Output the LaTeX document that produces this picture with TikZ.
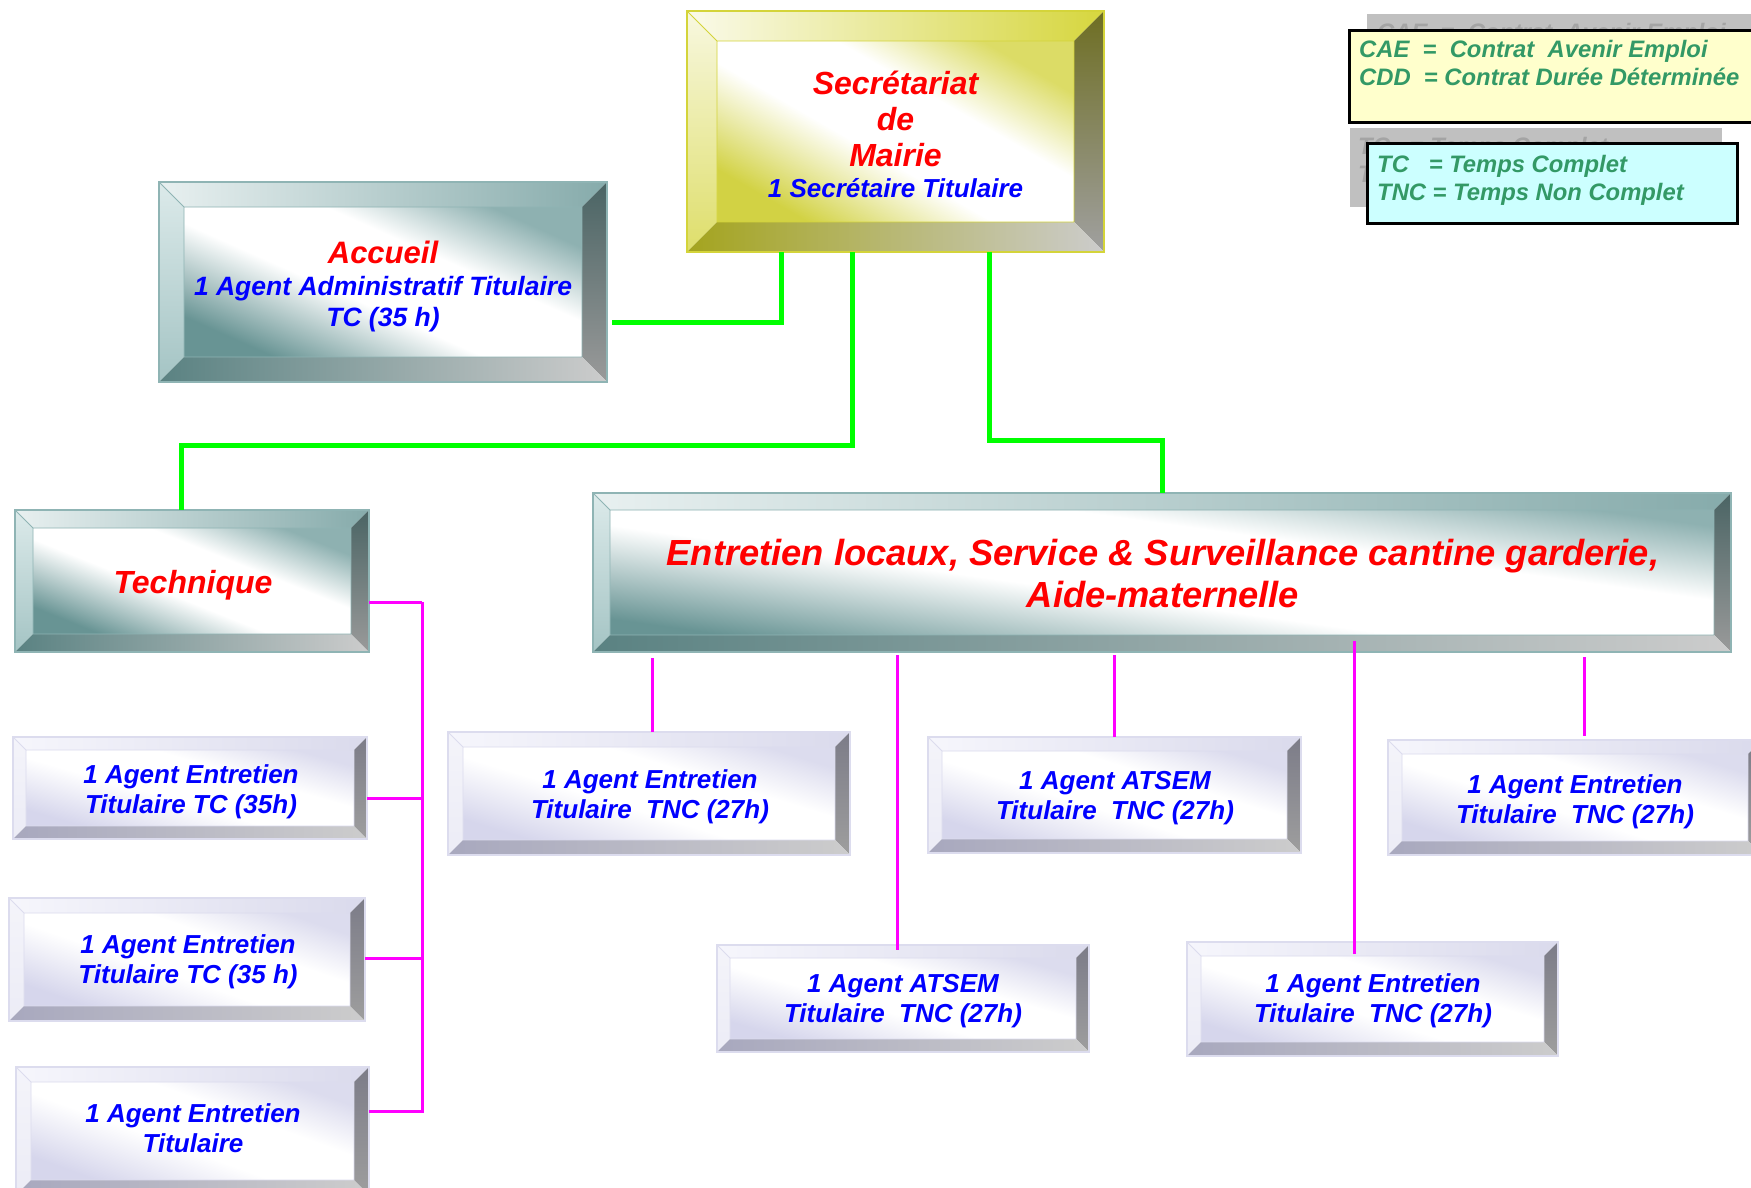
\documentclass[tikz,border=0pt]{standalone}
\usepackage{fontspec}
\setmainfont{Liberation Sans}
\usepackage{xcolor}
\usetikzlibrary{positioning, calc}

% text and link colours
\definecolor{redtxt}{HTML}{FF0000}
\definecolor{bluetxt}{HTML}{0000FF}
\definecolor{lgtxt}{HTML}{339966}
\definecolor{linkgreen}{HTML}{00FF00}
\definecolor{linkpink}{HTML}{FF00FF}
\definecolor{ghostbox}{HTML}{C0C0C0}
\definecolor{ghosttxt}{HTML}{A4A4A4}
\definecolor{legyellow}{HTML}{FFFFCC}
\definecolor{legcyan}{HTML}{CCFFFF}

% teal bevel
\definecolor{tltopa}{HTML}{E8F0F0}
\definecolor{tltopb}{HTML}{86ABAB}
\definecolor{tllfta}{HTML}{DCEAEA}
\definecolor{tllftb}{HTML}{A4C4C4}
\definecolor{tlrgta}{HTML}{4A6464}
\definecolor{tlrgtb}{HTML}{9A9A9A}
\definecolor{tlbota}{HTML}{5A8282}
\definecolor{tlbotb}{HTML}{CCCCCC}
\definecolor{tledge}{HTML}{8FB4B4}
\definecolor{tlfacea}{HTML}{689494}
\definecolor{tlfaceb}{HTML}{8EB1B1}
% yellow bevel
\definecolor{yltopa}{HTML}{FAFAEA}
\definecolor{yltopb}{HTML}{D6D63E}
\definecolor{yllfta}{HTML}{F8F8E0}
\definecolor{yllftb}{HTML}{DEDE6A}
\definecolor{ylrgta}{HTML}{6E6E22}
\definecolor{ylrgtb}{HTML}{A0A0A0}
\definecolor{ylbota}{HTML}{A4A41E}
\definecolor{ylbotb}{HTML}{CCCCCC}
\definecolor{yledge}{HTML}{D4D43A}
\definecolor{ylfacea}{HTML}{D2D244}
\definecolor{ylfaceb}{HTML}{DCDC66}
% lavender bevel
\definecolor{lvtopa}{HTML}{F6F6FC}
\definecolor{lvtopb}{HTML}{DADAEC}
\definecolor{lvlfta}{HTML}{F4F4FA}
\definecolor{lvlftb}{HTML}{ECECF6}
\definecolor{lvrgta}{HTML}{7C7C88}
\definecolor{lvrgtb}{HTML}{9E9E9E}
\definecolor{lvbota}{HTML}{A8A8BE}
\definecolor{lvbotb}{HTML}{CCCCCC}
\definecolor{lvedge}{HTML}{DCDCEE}
\definecolor{lvfacea}{HTML}{D6D6EC}
\definecolor{lvfaceb}{HTML}{DCDCEE}

\pgfdeclarehorizontalshading{tlface}{100bp}{color(0bp)=(tlfacea); color(25bp)=(tlfacea); color(44bp)=(white); color(60bp)=(white); color(75bp)=(tlfaceb); color(100bp)=(tlfaceb)}
\pgfdeclarehorizontalshading{ylface}{100bp}{color(0bp)=(ylfacea); color(25bp)=(ylfacea); color(44bp)=(white); color(60bp)=(white); color(75bp)=(ylfaceb); color(100bp)=(ylfaceb)}
\pgfdeclarehorizontalshading{lvface}{100bp}{color(0bp)=(lvfacea); color(25bp)=(lvfacea); color(44bp)=(white); color(60bp)=(white); color(75bp)=(lvfaceb); color(100bp)=(lvfaceb)}

% bevelled box: name, x0, y0, x1, y1, bevel, palette
\newcommand{\bevelbox}[7]{%
  \pgfmathsetmacro{\bvang}{atan2(#4-#2,#5-#3)}%
  \node[inner sep=0pt, outer sep=0pt, minimum width={(#4-#2)*1pt}, minimum height={(#5-#3)*1pt}] (#1) at ({(#2+#4)/2},{(#3+#5)/2}) {};
  \shade[shading=#7face, shading angle=\bvang] ({#2+#6},{#3+#6}) rectangle ({#4-#6},{#5-#6});
  \shade[left color=#7topa, right color=#7topb] (#1.north west) -- (#1.north east) -- ({#4-#6},{#3+#6}) -- ({#2+#6},{#3+#6}) -- cycle;
  \shade[top color=#7lfta, bottom color=#7lftb] (#1.north west) -- ({#2+#6},{#3+#6}) -- ({#2+#6},{#5-#6}) -- (#1.south west) -- cycle;
  \shade[top color=#7rgta, bottom color=#7rgtb] (#1.north east) -- (#1.south east) -- ({#4-#6},{#5-#6}) -- ({#4-#6},{#3+#6}) -- cycle;
  \shade[left color=#7bota, right color=#7botb] (#1.south west) -- (#1.south east) -- ({#4-#6},{#5-#6}) -- ({#2+#6},{#5-#6}) -- cycle;
  \draw[#7edge, line width=0.8pt] ({#2+#6},{#3+#6}) rectangle ({#4-#6},{#5-#6}) (#1.north west) -- ({#2+#6},{#3+#6});
  \draw[#7edge, line width=1.2pt] (#1.north west) rectangle (#1.south east);
}

\begin{document}
\begin{tikzpicture}[x=1pt, y=-1pt,
    redtext/.style={font=\fontsize{32}{36}\selectfont\bfseries\itshape, text=redtxt, inner sep=0pt, anchor=base},
    bluetext/.style={font=\fontsize{26}{30}\selectfont\bfseries\itshape, text=bluetxt, inner sep=0pt, anchor=base},
    legtext/.style={font=\fontsize{23.8}{28}\selectfont\bfseries\itshape, text=lgtxt, inner sep=0pt, anchor=base west},
    greenlink/.style={draw=linkgreen, line width=5pt},
    pinklink/.style={draw=linkpink, line width=3pt}]
    \fill[white] (0,0) rectangle (1751,1188);
    \useasboundingbox (0,0) rectangle (1751,1188);

    % Legende
    \fill[ghostbox] (1367,14) rectangle (1770,110);
    \node[legtext, text=ghosttxt] (ghostcae) at (1377,41) {CAE\ \ =\ \ Contrat\ \ Avenir Emploi};
    \draw[black, line width=3pt, fill=legyellow] (1349,31) rectangle (1775,123);
    \node[legtext] (lgcontrat) at (1359,58) {\begin{tabular}[t]{@{}l@{}}
        CAE\ \ =\ \ Contrat\ \ Avenir Emploi\\
        CDD\ \ = Contrat Durée Déterminée
        \end{tabular}};
    \fill[ghostbox] (1350,128) rectangle (1722,207);
    \node[legtext, text=ghosttxt] (ghosttc) at (1358,155) {\begin{tabular}[t]{@{}l@{}}
        TC\ \ \ = Temps Complet\\
        TNC = Temps Non Complet
        \end{tabular}};
    \draw[black, line width=3pt, fill=legcyan] (1367,144) rectangle (1737,223);
    \node[legtext] (lgtemps) at (1377,172) {\begin{tabular}[t]{@{}l@{}}
        TC\ \ \ = Temps Complet\\
        TNC = Temps Non Complet
        \end{tabular}};

    % Boites
    \bevelbox{secr}{687}{11}{1104}{252}{30}{yl}
    \bevelbox{accueil}{159}{182}{607}{382}{25}{tl}
    \bevelbox{technique}{15}{510}{369}{652}{18}{tl}
    \bevelbox{entretien}{593}{493}{1731}{652}{17}{tl}
    \bevelbox{techa}{13}{737}{367}{839}{13}{lv}
    \bevelbox{techb}{9}{898}{365}{1021}{15}{lv}
    \bevelbox{techc}{16}{1067}{369}{1195}{15}{lv}
    \bevelbox{enta}{448}{732}{850}{855}{15}{lv}
    \bevelbox{atsema}{928}{737}{1301}{853}{14}{lv}
    \bevelbox{entb}{1388}{740}{1762}{855}{14}{lv}
    \bevelbox{atsemb}{717}{945}{1089}{1052}{13}{lv}
    \bevelbox{entc}{1187}{942}{1558}{1056}{14}{lv}

    % Textes
    \node[redtext] (secr-title) at (895.5,94.5) {\begin{tabular}[t]{c}
        Secrétariat\\ de\\ Mairie
        \end{tabular}};
    \node[bluetext] (secr-sub) at (895.5,197) {1 Secrétaire Titulaire};
    \node[redtext, font=\fontsize{31}{36}\selectfont\bfseries\itshape] (accueil-title) at (383,263) {Accueil};
    \node[bluetext, font=\fontsize{26.5}{31}\selectfont\bfseries\itshape] (accueil-sub) at (383,295) {\begin{tabular}[t]{c}
        1 Agent Administratif Titulaire\\ TC (35 h)
        \end{tabular}};
    \node[redtext] (technique-title) at (193,593) {Technique};
    \node[redtext, font=\fontsize{36.3}{42}\selectfont\bfseries\itshape] (entretien-title) at (1163,565) {\begin{tabular}[t]{c}
        Entretien locaux, Service \& Surveillance cantine garderie,\\ Aide-maternelle
        \end{tabular}};
    \node[bluetext] (techa-txt) at (191,783) {\begin{tabular}[t]{c}
        1 Agent Entretien\\ Titulaire TC (35h)\end{tabular}};
    \node[bluetext] (techb-txt) at (188,953) {\begin{tabular}[t]{c}
        1 Agent Entretien\\ Titulaire TC (35 h)\end{tabular}};
    \node[bluetext] (techc-txt) at (193,1122) {\begin{tabular}[t]{c}
        1 Agent Entretien\\ Titulaire\end{tabular}};
    \node[bluetext] (enta-txt) at (650,788) {\begin{tabular}[t]{c}
        1 Agent Entretien\\ Titulaire\ \ TNC (27h)\end{tabular}};
    \node[bluetext] (atsema-txt) at (1115,789) {\begin{tabular}[t]{c}
        1 Agent ATSEM\\ Titulaire\ \ TNC (27h)\end{tabular}};
    \node[bluetext] (entb-txt) at (1575,793) {\begin{tabular}[t]{c}
        1 Agent Entretien\\ Titulaire\ \ TNC (27h)\end{tabular}};
    \node[bluetext] (atsemb-txt) at (903,992) {\begin{tabular}[t]{c}
        1 Agent ATSEM\\ Titulaire\ \ TNC (27h)\end{tabular}};
    \node[bluetext] (entc-txt) at (1373,992) {\begin{tabular}[t]{c}
        1 Agent Entretien\\ Titulaire\ \ TNC (27h)\end{tabular}};

    % Liens secretariat
    \draw[greenlink] ([xshift=-114pt]secr.south) |- ([xshift=5pt,yshift=-40pt]accueil.east);
    \draw[greenlink] ([xshift=-43pt]secr.south) |- ([xshift=-11pt,yshift=65pt]technique.north) -- ([xshift=-11pt]technique.north);
    \draw[greenlink] ([xshift=94pt]secr.south) |- ([yshift=53pt]entretien.north) -- (entretien.north);

    % Liens technique
    \draw[pinklink] ([yshift=-21pt]technique.east) -- ++(53,0) coordinate (techbus);
    \draw[pinklink] (techbus) |- ([yshift=20pt]techc.east);
    \draw[pinklink] ([yshift=-10pt]techa.east) -- ++(55,0);
    \draw[pinklink] ([yshift=1pt]techb.east) -- ++(57,0);

    % Liens entretien
    \draw[pinklink] ($(entretien.south -| enta.north)+(3,6)$) -- ($(enta.north)+(3,0)$);
    \draw[pinklink] ($(entretien.south -| atsemb.north)+(-6,3)$) -- ($(atsemb.north)+(-6,5)$);
    \draw[pinklink] ($(entretien.south -| atsema.north)+(0,3)$) -- (atsema.north);
    \draw[pinklink] ($(entretien.south -| entc.north)+(-18,-11)$) -- ($(entc.north)+(-18,12)$);
    \draw[pinklink] ($(entretien.south -| entb.north)+(9,5)$) -- ($(entb.north)+(9,-4)$);
\end{tikzpicture}
\end{document}
